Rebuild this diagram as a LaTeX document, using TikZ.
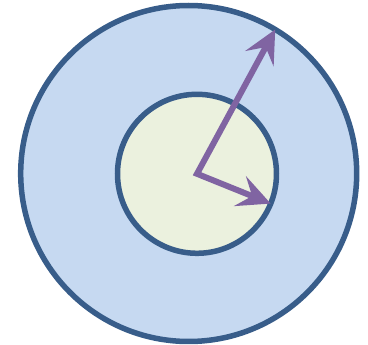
\documentclass[tikz,border=0pt]{standalone}
\usepackage{tikz}
\usetikzlibrary{arrows.meta}
\definecolor{rimblue}{HTML}{385D8A}
\definecolor{outerfill}{HTML}{C6D9F1}
\definecolor{innerfill}{HTML}{EBF1DE}
\definecolor{vecpurple}{HTML}{8064A2}

\begin{document}
\begin{tikzpicture}[
      x=1pt, y=-1pt,
      disc/.style={circle, draw=rimblue, line width=5.5pt, inner sep=0pt, outer sep=0pt},
      vec/.style={{Stealth[length=33pt, width=32pt, inset=13pt]}-{Stealth[length=33pt, width=32pt, inset=13pt]}, draw=vecpurple, line width=6pt, line join=miter}
    ]
    \useasboundingbox (0,0) rectangle (368,345);
    \node[disc, fill=outerfill, minimum size=336pt] (outer) at (188.7,173.5) {};
    \node[disc, fill=innerfill, minimum size=159pt] (inner) at (197,173.8) {};
    \draw[vec] (outer.59) -- (inner.center) -- (inner.-22);
  \end{tikzpicture}
\end{document}
